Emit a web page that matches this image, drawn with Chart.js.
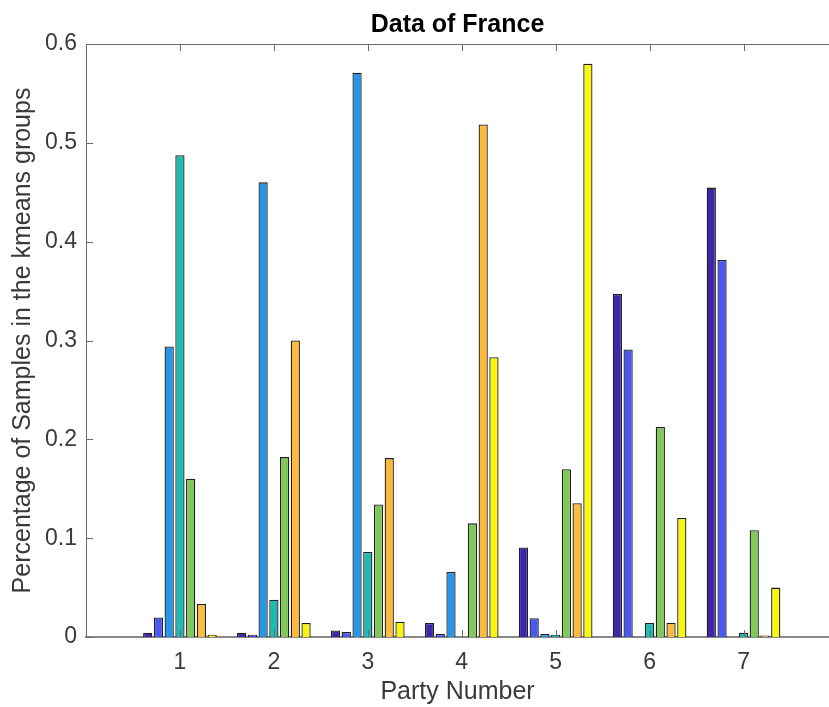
<!DOCTYPE html>
<html>
<head>
<meta charset="utf-8">
<script src="https://cdn.jsdelivr.net/npm/chart.js@4.4.1/dist/chart.umd.min.js"></script>
<style>
html,body{margin:0;padding:0;background:#fff;overflow:hidden;width:829px;height:707px}
canvas{display:block}
</style>
</head>
<body>
<canvas id="c" width="829" height="707" style="width:829px;height:707px"></canvas>
<script>
// ---- data ----
const categories = ['1', '2', '3', '4', '5', '6', '7'];
const seriesNames = ['Group 1', 'Group 2', 'Group 3', 'Group 4', 'Group 5', 'Group 6', 'Group 7'];
const group1 = [0.0043, 0.0043, 0.0067, 0.0142, 0.0906, 0.347, 0.4547];
const group2 = [0.0197, 0.0024, 0.0050, 0.0031, 0.0189, 0.291, 0.3815];
const group3 = [0.294, 0.460, 0.571, 0.0657, 0.0031, 0, 0];
const group4 = [0.4874, 0.0378, 0.086, 0, 0.0024, 0.0142, 0.0043];
const group5 = [0.160, 0.182, 0.134, 0.115, 0.1697, 0.2126, 0.108];
const group6 = [0.0335, 0.300, 0.181, 0.5185, 0.1354, 0.0142, 0.0016];
const group7 = [0.0024, 0.0142, 0.0154, 0.283, 0.580, 0.1205, 0.050];
const yTickLabels = ['0', '0.1', '0.2', '0.3', '0.4', '0.5', '0.6'];
const seriesColors = ['#3e26a8', '#4a58f3', '#2796e8', '#1dbbb2', '#80c859', '#fcbb3d', '#f8f510'];

const allSeries = [group1, group2, group3, group4, group5, group6, group7];
const xPositions = categories.map(c => Number(c));
const FONT = "'Liberation Sans', Arial, Helvetica, sans-serif";
const AXIS = '#6b6b6b';
const TEXT = '#3a3a3a';

const boxTicks = {
  id: 'boxTicks',
  afterDatasetsDraw(chart) {
    const {ctx, chartArea: a, scales: {x, y}} = chart;
    ctx.save();
    ctx.strokeStyle = AXIS;
    ctx.lineWidth = 1;
    ctx.beginPath();
    ctx.moveTo(a.left, a.top + 0.5);
    ctx.lineTo(a.right, a.top + 0.5);
    x.ticks.forEach((t, i) => {
      if (!t.label) return;
      const px = Math.round(x.getPixelForTick(i)) + 0.5;
      ctx.moveTo(px, a.bottom); ctx.lineTo(px, a.bottom - 7);
      ctx.moveTo(px, a.top); ctx.lineTo(px, a.top + 7);
    });
    y.ticks.forEach((t, i) => {
      const py = Math.round(y.getPixelForTick(i)) + 0.5;
      ctx.moveTo(a.left, py); ctx.lineTo(a.left + 7, py);
    });
    ctx.stroke();
    ctx.restore();
  }
};

new Chart(document.getElementById('c'), {
  type: 'bar',
  data: {
    datasets: allSeries.map((s, k) => ({
      label: seriesNames[k],
      data: s.map((v, i) => ({x: xPositions[i], y: v})),
      backgroundColor: seriesColors[k],
      borderColor: 'rgba(20,20,20,0.95)',
      borderWidth: 1.3,
      categoryPercentage: 0.8,
      barPercentage: 0.86
    }))
  },
  options: {
    responsive: false,
    maintainAspectRatio: false,
    animation: false,
    devicePixelRatio: 1,
    layout: {padding: {left: 0, right: 0, top: 0, bottom: 0}},
    plugins: {
      legend: {display: false},
      tooltip: {enabled: false},
      title: {
        display: true,
        fullSize: false,
        text: 'Data of France',
        color: '#000',
        font: {family: FONT, size: 25, weight: 'bold'},
        padding: {top: 10, bottom: 4}
      }
    },
    scales: {
      x: {
        type: 'linear',
        min: 0,
        max: 7.91,
        offset: false,
        grid: {display: false, drawTicks: false},
        border: {display: true, color: '#888888', width: 2},
        ticks: {
          stepSize: 1,
          includeBounds: false,
          color: TEXT,
          font: {family: FONT, size: 23},
          padding: 12,
          autoSkip: false,
          maxRotation: 0,
          callback: (v) => {
            const i = xPositions.indexOf(v);
            return i >= 0 ? categories[i] : '';
          }
        },
        title: {display: true, text: 'Party Number', color: TEXT, font: {family: FONT, size: 25}, padding: {top: 0, bottom: 0}},
        afterFit(s) { s.height = 70; }
      },
      y: {
        min: 0,
        max: 0.6,
        grid: {display: false, drawTicks: false},
        border: {display: true, color: AXIS, width: 1},
        ticks: {
          stepSize: 0.1,
          color: TEXT,
          font: {family: FONT, size: 23},
          padding: 9,
          callback: (v, i) => yTickLabels[i]
        },
        title: {display: true, text: 'Percentage of Samples in the kmeans groups', color: TEXT, font: {family: FONT, size: 25}, padding: {top: 8, bottom: 0}},
        afterFit(s) { s.width = 86; }
      }
    }
  },
  plugins: [boxTicks]
});
</script>
</body>
</html>
